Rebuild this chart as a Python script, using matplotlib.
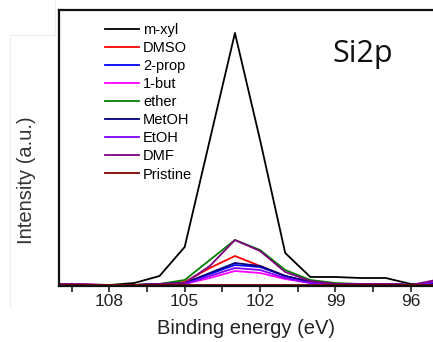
import matplotlib
matplotlib.use("Agg")
import matplotlib.pyplot as plt
from matplotlib.ticker import MultipleLocator
from matplotlib.lines import Line2D

plt.rcParams['font.family'] = ['Liberation Sans', 'DejaVu Sans']

# Binding energy grid (eV)
energy = [110, 109, 108, 107, 106, 105, 104, 103, 102, 101, 100, 99, 98, 97, 96, 95]

# Si2p intensities (a.u.) per solvent treatment
m_xyl    = [2, 1, 1, 3, 10, 39, 146, 253, 146, 33, 9, 9, 8, 8, 2, 2]
dmso     = [1, 1, 1, 1, 2, 4, 18, 30, 20, 10, 4, 2, 2, 2, 1, 3]
prop2    = [1, 1, 1, 1, 2, 3, 12, 21, 19, 10, 4, 2, 2, 2, 1, 3]
but1     = [1, 1, 1, 1, 1, 2, 8, 15, 13, 7, 3, 2, 2, 2, 1, 3]
ether    = [2, 1, 1, 1, 2, 6, 26, 46, 36, 16, 6, 3, 2, 2, 1, 4]
metoh    = [1, 1, 1, 1, 2, 3, 13, 23, 20, 10, 4, 2, 2, 2, 1, 3]
etoh     = [1, 1, 1, 1, 1, 2, 10, 18, 16, 8, 3, 2, 2, 2, 1, 4]
dmf      = [2, 2, 1, 1, 2, 3, 20, 46, 35, 14, 5, 2, 2, 2, 1, 6]
pristine = [1, 1, 1, 1, 1, 1, 1, 1, 1, 1, 1, 1, 1, 1, 1, 1]

labels = ["m-xyl", "DMSO", "2-prop", "1-but", "ether", "MetOH", "EtOH", "DMF", "Pristine"]
series = [m_xyl, dmso, prop2, but1, ether, metoh, etoh, dmf, pristine]
colors = ["#000000", "#ff0000", "#0000ff", "#ff00ff", "#008000",
          "#000080", "#8000ff", "#800080", "#800000"]

fig = plt.figure(figsize=(4.33, 3.42), dpi=100)
ax = fig.add_axes([59 / 433, 56 / 342, 1 - 59 / 433, 276 / 342])

for vals, lab, col in zip(series, labels, colors):
    ax.plot(energy, vals, color=col, lw=1.3, label=lab)

ax.set_xlim(110, 95.12)
ax.set_ylim(0, 276)

ax.xaxis.set_major_locator(MultipleLocator(3))
ax.xaxis.set_minor_locator(MultipleLocator(1.5))
ax.tick_params(axis='x', which='major', direction='out', length=4, width=1.2,
               labelsize=12.5, pad=2, color='#202020', labelcolor='#222222')
ax.tick_params(axis='x', which='minor', direction='out', length=4, width=1.2,
               color='#202020')
ax.set_yticks([])

for side in ('left', 'top', 'bottom'):
    ax.spines[side].set_linewidth(1.6)
    ax.spines[side].set_color('#111111')
ax.spines['right'].set_visible(False)

ax.set_xlabel("Binding energy (eV)", fontsize=14.5, labelpad=7, color='#222222')
fig.text(27 / 433, 1 - 180 / 342, "Intensity (a.u.)", rotation=90,
         ha='center', va='center', fontsize=14.5, color='#333333')

leg = ax.legend(loc='upper left', bbox_to_anchor=(0.1, 0.985), frameon=False,
                fontsize=10.5, handlelength=2.3, handletextpad=0.3,
                labelspacing=0.28, borderaxespad=0.2)

ax.text((332 - 59) / (433 - 59), (286 - 62) / 276, "Si2p", transform=ax.transAxes,
        fontsize=22, family=['Open Sans', 'DejaVu Sans'], color='#111111',
        va='baseline', ha='left')

# faint outline around the y-label panel
for xs, ys in (([10, 10], [35, 308]), ([10, 55], [35, 35]), ([55, 55], [0, 35])):
    fig.add_artist(Line2D([x / 433 for x in xs], [1 - y / 342 for y in ys],
                          color='#eeeeee', lw=0.8))

fig.savefig("out.png", dpi=100)
